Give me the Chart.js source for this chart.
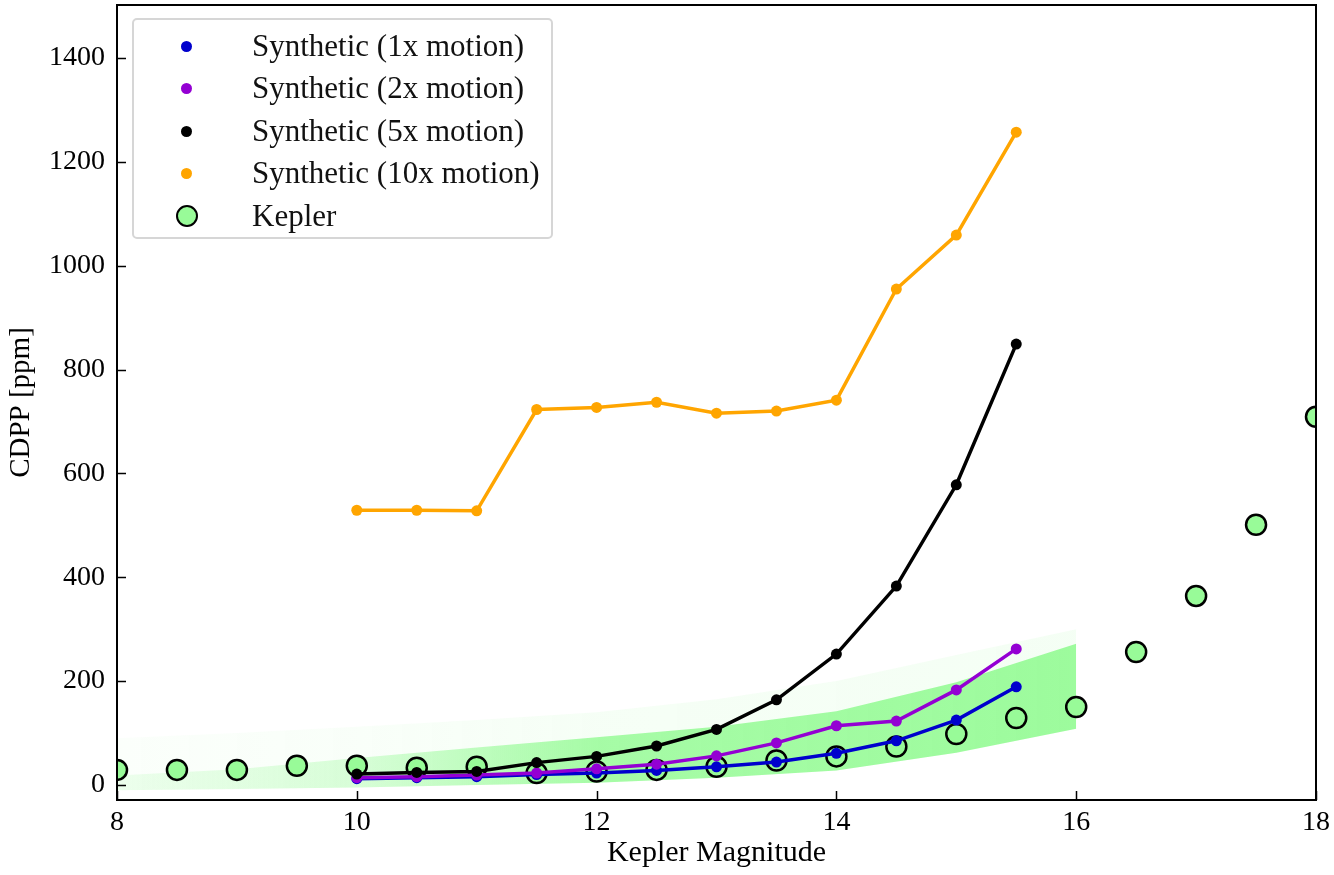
<!DOCTYPE html>
<html>
<head>
<meta charset="utf-8">
<script src="https://cdn.jsdelivr.net/npm/chart.js@4/dist/chart.umd.min.js"></script>
<style>
  body { margin: 0; background: #fff; }
  #wrap { position: relative; width: 1334px; height: 875px; }
  #legend {
    position: absolute; left: 132px; top: 18px; width: 417px; height: 217px;
    border: 2px solid #d6d6d6; border-radius: 5px; background: rgba(255,255,255,0.85);
    font-family: "Liberation Serif", serif; font-size: 31px; color: #111;
  }
  .row { position: absolute; left: 0; height: 40px; line-height: 40px; }
  .mk { position: absolute; border-radius: 50%; }
  .lbl { position: absolute; left: 118px; white-space: nowrap; }
</style>
</head>
<body>
<div id="wrap">
  <canvas id="cdppChart" width="1334" height="875"></canvas>
  <div id="legend"></div>
</div>
<script>
// Kepler magnitude bins and median CDPP values
const keplerMag = [8, 8.5, 9, 9.5, 10, 10.5, 11, 11.5, 12, 12.5, 13, 13.5, 14, 14.5, 15, 15.5, 16, 16.5, 17, 17.5, 18];
const keplerCdpp = [29, 29, 29, 37, 37, 33, 35, 23, 26, 29, 35, 47, 55, 74, 98, 129, 150, 256, 364, 501, 709];

// synthetic light curves
const synthMag = [10, 10.5, 11, 11.5, 12, 12.5, 13, 13.5, 14, 14.5, 15, 15.5];
const synth1x = [12, 14, 16, 20, 23, 28, 35, 44, 61, 85, 125, 189];
const synth2x = [14, 16, 19, 23, 31, 40, 56, 81, 114, 123, 183, 262];
const synth5x = [21, 24, 26, 43, 55, 75, 107, 164, 252, 383, 578, 849];
const synth10x = [529, 529, 528, 723, 727, 737, 716, 720, 741, 955, 1059, 1257];

// rough outline of the dense cloud of Kepler targets
const bandMag = [8, 9, 10, 11, 12, 13, 14, 15, 16];
const bandUpper = [18, 30, 52, 72, 92, 112, 142, 198, 272];
const bandLower = [-10, -8, -5, 0, 4, 14, 28, 62, 108];
const haloUpper = [90, 100, 112, 125, 140, 165, 200, 250, 300];

const xTicks = [8, 10, 12, 14, 16, 18];
const yTicks = [0, 200, 400, 600, 800, 1000, 1200, 1400];

const series = [
  { label: 'Synthetic (1x motion)', data: synth1x, color: '#0000cd' },
  { label: 'Synthetic (2x motion)', data: synth2x, color: '#9400d3' },
  { label: 'Synthetic (5x motion)', data: synth5x, color: '#000000' },
  { label: 'Synthetic (10x motion)', data: synth10x, color: '#ffa500' }
];
const keplerFill = '#98fb98';
const FONT = '"Liberation Serif", serif';

const pts = (xs, ys) => xs.map((x, i) => ({ x: x, y: ys[i] }));

function bandGradient(alphas) {
  return (ctx) => {
    const chart = ctx.chart;
    if (!chart.chartArea) return 'rgba(152,251,152,0.5)';
    const xs = chart.scales.x;
    const g = chart.ctx.createLinearGradient(xs.getPixelForValue(8), 0, xs.getPixelForValue(16), 0);
    g.addColorStop(0, `rgba(152,251,152,${alphas[0]})`);
    g.addColorStop(0.25, `rgba(152,251,152,${alphas[1]})`);
    g.addColorStop(0.5, `rgba(152,251,152,${alphas[2]})`);
    g.addColorStop(1, `rgba(152,251,152,${alphas[3]})`);
    return g;
  };
}

const datasets = [];
series.forEach((s, i) => {
  datasets.push({
    label: s.label,
    data: pts(synthMag, s.data),
    borderColor: s.color,
    backgroundColor: s.color,
    borderWidth: 3.5,
    pointRadius: 5.5,
    pointBorderWidth: 0,
    tension: 0,
    order: 4 - i
  });
});
datasets.push({
  label: 'Kepler',
  data: pts(keplerMag, keplerCdpp),
  showLine: false,
  backgroundColor: keplerFill,
  borderColor: '#000',
  pointRadius: 10,
  pointBorderWidth: 2.5,
  order: 10
});
// halo + dense band (drawn behind everything)
datasets.push({ data: pts(bandMag, bandLower), borderWidth: 0, pointRadius: 0, order: 30 });
datasets.push({ data: pts(bandMag, haloUpper), borderWidth: 0, pointRadius: 0, fill: '-1',
  backgroundColor: bandGradient([0.04, 0.06, 0.09, 0.1]), order: 30 });
datasets.push({ data: pts(bandMag, bandLower), borderWidth: 0, pointRadius: 0, order: 20 });
datasets.push({ data: pts(bandMag, bandUpper), borderWidth: 0, pointRadius: 0, fill: '-1',
  backgroundColor: bandGradient([0.15, 0.35, 0.85, 0.95]), order: 20 });

// ticks point inward, full black frame
const framePlugin = {
  id: 'frame',
  afterDraw(chart) {
    const { ctx, chartArea: a, scales } = chart;
    ctx.save();
    ctx.strokeStyle = '#000';
    ctx.lineWidth = 1.5;
    ctx.beginPath();
    xTicks.forEach(v => {
      const px = Math.round(scales.x.getPixelForValue(v)) + 0.5;
      ctx.moveTo(px, a.bottom);
      ctx.lineTo(px, a.bottom - 9);
    });
    yTicks.forEach(v => {
      const py = Math.round(scales.y.getPixelForValue(v)) + 0.5;
      ctx.moveTo(a.left, py);
      ctx.lineTo(a.left + 9, py);
    });
    ctx.stroke();
    ctx.lineWidth = 2;
    ctx.strokeRect(a.left, a.top, a.right - a.left, a.bottom - a.top);
    ctx.restore();
  }
};

const ctx = document.getElementById('cdppChart').getContext('2d');
const cdppChart = new Chart(ctx, {
  type: 'line',
  data: { datasets: datasets },
  options: {
    responsive: false,
    animation: false,
    layout: { autoPadding: false, padding: { top: 5, right: 18, left: 0, bottom: 0 } },
    plugins: { legend: { display: false }, tooltip: { enabled: false } },
    scales: {
      x: {
        type: 'linear',
        min: 8, max: 18,
        afterBuildTicks: s => { s.ticks = xTicks.map(v => ({ value: v })); },
        afterFit: s => { s.height = 75; s.paddingLeft = 0; s.paddingRight = 0; },
        grid: { display: false, drawTicks: false },
        border: { display: false },
        ticks: { color: '#000', padding: 6, font: { family: FONT, size: 28 } },
        title: { display: true, text: 'Kepler Magnitude', color: '#000', padding: { top: 2 },
          font: { family: FONT, size: 30 } }
      },
      y: {
        min: -29, max: 1502,
        afterBuildTicks: s => { s.ticks = yTicks.map(v => ({ value: v })); },
        afterFit: s => { s.width = 117; s.paddingTop = 0; s.paddingBottom = 0; },
        grid: { display: false, drawTicks: false },
        border: { display: false },
        ticks: { color: '#000', padding: 12, font: { family: FONT, size: 28 }, callback: v => String(v) },
        title: { display: true, text: 'CDPP [ppm]', color: '#000', padding: { top: 4, bottom: 0 },
          font: { family: FONT, size: 29 } }
      }
    }
  },
  plugins: [framePlugin]
});

// legend box like the original
const legend = document.getElementById('legend');
const rows = series.map(s => ({ label: s.label, color: s.color, kepler: false }))
  .concat([{ label: 'Kepler', kepler: true }]);
rows.forEach((r, i) => {
  const row = document.createElement('div');
  row.className = 'row';
  row.style.top = (6 + i * 42.4) + 'px';
  row.style.width = '100%';
  const mk = document.createElement('div');
  mk.className = 'mk';
  if (r.kepler) {
    mk.style.cssText += 'left:42px;top:9px;width:18px;height:18px;border:2.5px solid #000;background:' + keplerFill;
  } else {
    mk.style.cssText += 'left:47px;top:15px;width:11px;height:11px;background:' + r.color;
  }
  const lbl = document.createElement('span');
  lbl.className = 'lbl';
  lbl.textContent = r.label;
  row.appendChild(mk);
  row.appendChild(lbl);
  legend.appendChild(row);
});
</script>
</body>
</html>
